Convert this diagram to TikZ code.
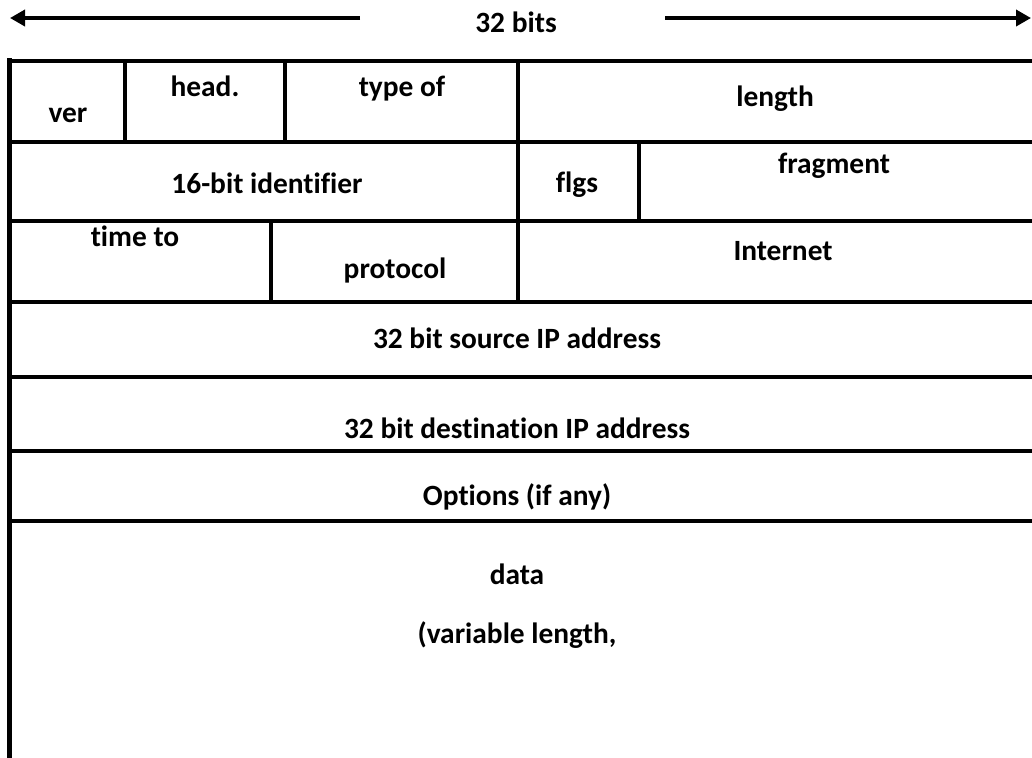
\documentclass[tikz,border=0pt]{standalone}
\usepackage{fontspec}
\setmainfont{Carlito}[Ligatures={NoCommon,NoContextual}]
\usetikzlibrary{arrows.meta,positioning}

\begin{document}
\begin{tikzpicture}[
  x=0.5pt,y=-0.5pt,
  field/.style={font=\bfseries\fontsize{14.7}{17}\selectfont,anchor=base,inner sep=0pt},
  rule/.style={line width=2.2pt},
  span/.style={-{Triangle[length=7.5pt,width=8pt]},line width=1.8pt},
]
\useasboundingbox (0,0) rectangle (1032,757);
% word width marker
\node[field] (bits) at (516,32) {32 bits};
\coordinate (lfrom) at (360,18);
\coordinate (lto) at (10,18);
\coordinate (rfrom) at (665,18);
\coordinate (rto) at (1031,18);
\draw[span] (lfrom) -- (lto);
\draw[span] (rfrom) -- (rto);
% header grid
\draw[rule] (9.5,58) -- (9.5,760);
\foreach \y in {61,142,221,302,377,451,521}
  \draw[rule] (7.5,\y) -- (1036,\y);
\draw[rule] (125,61) -- (125,142);
\draw[rule] (285,61) -- (285,142);
\draw[rule] (518,61) -- (518,142);
\draw[rule] (518,142) -- (518,221);
\draw[rule] (639,142) -- (639,221);
\draw[rule] (271,221) -- (271,302);
\draw[rule] (518,221) -- (518,302);
% row 1
\node[field] (ver) at (68,122) {ver};
\node[field] (hlen) at (205,96) {head.};
\node[field] (tos) at (402,96) {type of};
\node[field] (len) at (775,106) {length};
% row 2
\node[field] (ident) at (267,193) {16-bit identifier};
\node[field] (flgs) at (577,192) {flgs};
\node[field] (frag) at (834,173) {fragment};
% row 3
\node[field] (ttl) at (135,246) {time to};
\node[field] (proto) at (395,278) {protocol};
\node[field] (csum) at (783,260) {Internet};
% addresses, options, payload
\node[field] (src) at (517,348) {32 bit source IP address};
\node[field] (dst) at (517,438) {32 bit destination IP address};
\node[field] (opts) at (517,505) {Options (if any)};
\node[field] (data) at (517,584) {data};
\node[field] (varlen) at (517,643) {(variable length,};
\end{tikzpicture}
\end{document}
